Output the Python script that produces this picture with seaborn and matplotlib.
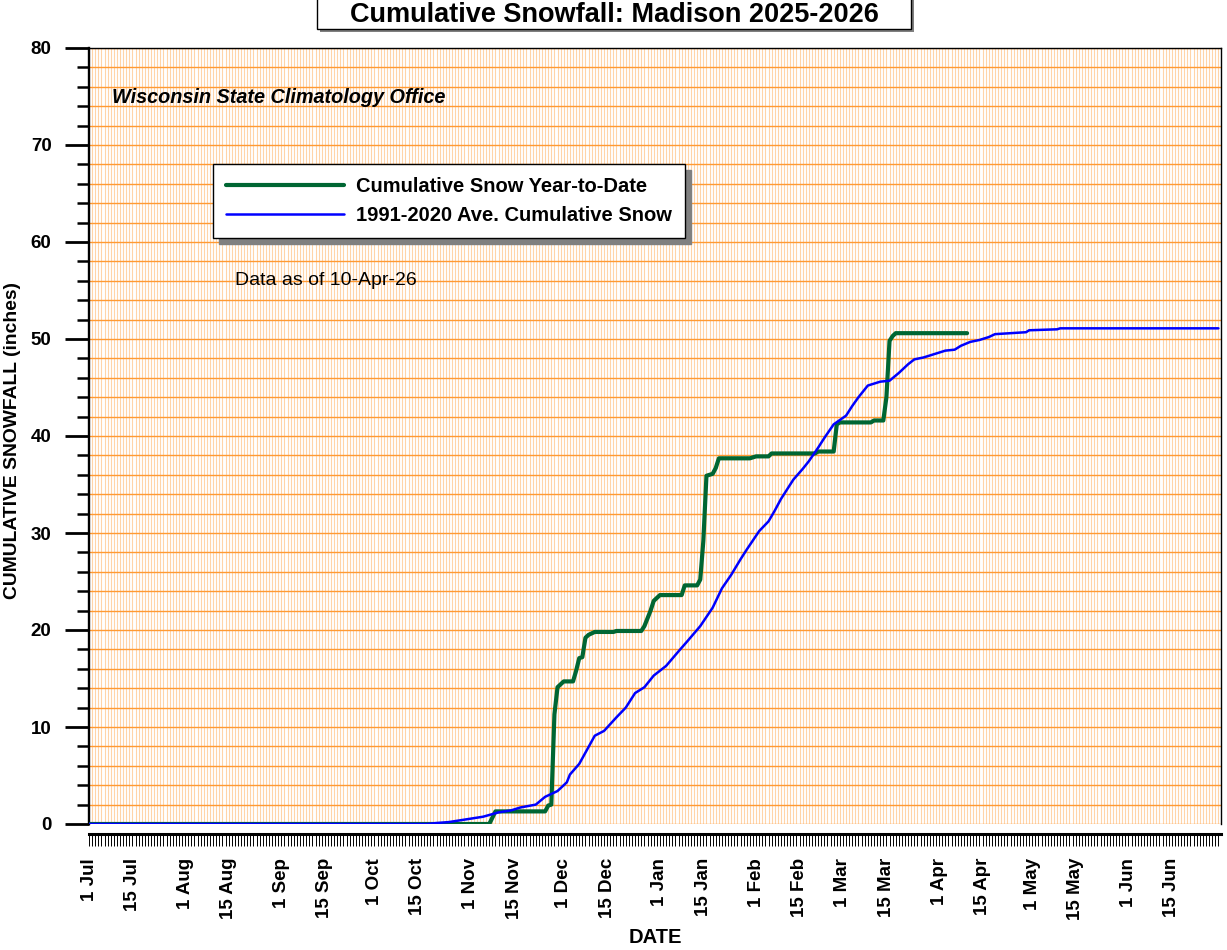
import matplotlib
matplotlib.use('Agg')
import matplotlib.pyplot as plt
import matplotlib.dates as mdates
from matplotlib.patches import Rectangle
from matplotlib.ticker import MultipleLocator, FuncFormatter
import pandas as pd
import seaborn as sns

# Cumulative snow this season
ytd_dates = ['2025-07-01', '2025-11-07', '2025-11-09', '2025-11-25', '2025-11-26', '2025-11-27',
             '2025-11-28', '2025-11-29', '2025-12-01', '2025-12-04', '2025-12-05', '2025-12-06',
             '2025-12-07', '2025-12-08', '2025-12-09', '2025-12-11', '2025-12-17', '2025-12-18',
             '2025-12-26', '2025-12-27', '2025-12-29', '2025-12-30', '2026-01-01', '2026-01-08',
             '2026-01-09', '2026-01-13', '2026-01-14', '2026-01-15', '2026-01-16', '2026-01-18',
             '2026-01-19', '2026-01-20', '2026-01-30', '2026-02-01', '2026-02-05', '2026-02-06',
             '2026-02-20', '2026-02-21', '2026-02-26', '2026-02-27', '2026-02-28', '2026-03-10',
             '2026-03-11', '2026-03-14', '2026-03-15', '2026-03-16', '2026-03-17', '2026-03-18',
             '2026-04-10']
ytd_snow = [0.0, 0.0, 1.3, 1.3, 1.9, 2.0,
            11.3, 14.1, 14.7, 14.7, 15.8, 17.1,
            17.2, 19.2, 19.5, 19.8, 19.8, 19.9,
            19.9, 20.4, 22.0, 23.0, 23.6, 23.6,
            24.6, 24.6, 25.2, 29.2, 35.9, 36.1,
            36.7, 37.7, 37.7, 37.9, 37.9, 38.2,
            38.2, 38.4, 38.4, 41.2, 41.4, 41.4,
            41.6, 41.6, 44.0, 49.8, 50.3, 50.6,
            50.6]

# 1991-2020 average cumulative snow
avg_dates = ['2025-07-01', '2025-10-18', '2025-10-21', '2025-10-25', '2025-10-29', '2025-11-02',
             '2025-11-05', '2025-11-10', '2025-11-14', '2025-11-17', '2025-11-22', '2025-11-25',
             '2025-11-29', '2025-12-02', '2025-12-03', '2025-12-06', '2025-12-11', '2025-12-14',
             '2025-12-18', '2025-12-21', '2025-12-24', '2025-12-27', '2025-12-30', '2026-01-03',
             '2026-01-07', '2026-01-10', '2026-01-14', '2026-01-18', '2026-01-21', '2026-01-24',
             '2026-01-27', '2026-01-29', '2026-02-02', '2026-02-05', '2026-02-07', '2026-02-09',
             '2026-02-11', '2026-02-13', '2026-02-16', '2026-02-18', '2026-02-21', '2026-02-23',
             '2026-02-26', '2026-03-02', '2026-03-04', '2026-03-06', '2026-03-09', '2026-03-13',
             '2026-03-16', '2026-03-19', '2026-03-22', '2026-03-24', '2026-03-27', '2026-03-31',
             '2026-04-03', '2026-04-06', '2026-04-08', '2026-04-11', '2026-04-14', '2026-04-17',
             '2026-04-19', '2026-04-24', '2026-04-29', '2026-04-30', '2026-05-09', '2026-05-10',
             '2026-06-30']
avg_snow = [0.0, 0.0, 0.1, 0.2, 0.4, 0.6,
            0.75, 1.2, 1.4, 1.7, 2.0, 2.8,
            3.4, 4.3, 5.1, 6.2, 9.1, 9.6,
            11.0, 12.0, 13.5, 14.1, 15.3, 16.3,
            17.8, 18.9, 20.4, 22.3, 24.3, 25.7,
            27.3, 28.3, 30.2, 31.2, 32.3, 33.5,
            34.5, 35.5, 36.6, 37.4, 38.8, 39.8,
            41.2, 42.1, 43.1, 44.0, 45.2, 45.6,
            45.7, 46.5, 47.4, 47.9, 48.1, 48.5,
            48.8, 48.9, 49.3, 49.7, 49.9, 50.2,
            50.5, 50.6, 50.7, 50.9, 51.0, 51.1,
            51.1]

ytd = pd.DataFrame({'date': pd.to_datetime(ytd_dates), 'snow': ytd_snow})
avg = pd.DataFrame({'date': pd.to_datetime(avg_dates), 'snow': avg_snow})

sns.set_style('white')
plt.rcParams['font.family'] = ['Liberation Sans', 'DejaVu Sans']
plt.rcParams['font.weight'] = 'bold'
plt.rcParams['text.color'] = 'black'

fig = plt.figure(figsize=(12.27, 9.5), dpi=100)
ax = fig.add_axes([89/1227, 126/950, 1132/1227, 776/950])

sns.lineplot(data=ytd, x='date', y='snow', ax=ax, color='#006633', lw=3.0,
             label='Cumulative Snow Year-to-Date', zorder=3)
sns.lineplot(data=avg, x='date', y='snow', ax=ax, color='#0000FF', lw=1.8,
             label='1991-2020 Ave. Cumulative Snow', zorder=4)

ax.set_xlim(pd.Timestamp('2025-07-01'), pd.Timestamp('2026-06-30 20:00'))
ax.set_ylim(0, 80)

# x ticks: every day, labels on the 1st and 15th
ax.xaxis.set_major_locator(mdates.DayLocator(bymonthday=[1, 15]))
ax.xaxis.set_minor_locator(mdates.DayLocator())
ax.xaxis.set_major_formatter(FuncFormatter(
    lambda v, p: f"{mdates.num2date(v).day} {mdates.num2date(v):%b}"))
ax.yaxis.set_major_locator(MultipleLocator(10))
ax.yaxis.set_minor_locator(MultipleLocator(2))

ax.tick_params(axis='x', which='both', direction='out', length=8.6, width=0.7,
               color='black', bottom=True)
ax.tick_params(axis='x', which='major', labelsize=13.5, pad=8.6, labelrotation=90,
               labelcolor='black')
ax.tick_params(axis='y', which='major', direction='out', length=17.5, width=2,
               color='black', left=True, labelsize=13.5, pad=9.5, labelcolor='black')
ax.tick_params(axis='y', which='minor', direction='out', length=8.6, width=1.8,
               color='black', left=True)

# grid
ax.grid(which='both', axis='x', color='#FFD4A8', lw=0.8)
ax.grid(which='both', axis='y', color='#FF9A33', lw=1.0)
ax.set_axisbelow(True)

# spines
for side in ['top', 'right']:
    ax.spines[side].set_color('black')
    ax.spines[side].set_linewidth(1.0)
ax.spines['left'].set_color('black')
ax.spines['left'].set_linewidth(1.7)
ax.spines['bottom'].set_color('black')
ax.spines['bottom'].set_linewidth(2.2)
ax.spines['bottom'].set_position(('outward', 7.2))

ax.set_xlabel('DATE', fontsize=14.5, fontweight='bold', color='black')
ax.xaxis.set_label_coords(0.5, -0.134)
ax.set_ylabel('CUMULATIVE SNOWFALL (inches)', fontsize=13.9, fontweight='bold', color='black')
ax.yaxis.set_label_coords(-0.060, 0.4936)

leg = ax.legend(loc='upper left', bbox_to_anchor=(213/1227, 1 - 164/950),
                bbox_transform=fig.transFigure, borderaxespad=0, frameon=True,
                fancybox=False, framealpha=1, edgecolor='black', fontsize=14.5,
                handlelength=5.85, handletextpad=0.6, borderpad=0.65, labelspacing=0.47,
                shadow={'ox': 4.5, 'oy': -4.5, 'color': '#808080', 'alpha': 1})
leg.get_frame().set_linewidth(1.0)

ax.text(0.0203, 0.9356, 'Wisconsin State Climatology Office', transform=ax.transAxes,
        fontsize=14.3, fontweight='bold', style='italic', va='center')
ax.text(0.129, 0.701, 'Data as of 10-Apr-26', transform=ax.transAxes,
        fontsize=14, fontweight='normal', va='center')

# title in a box with shadow
fig.add_artist(Rectangle((320/1227, 1 - 32/950), 594/1227, 40/950,
                         transform=fig.transFigure, facecolor='#808080', edgecolor='none'))
fig.add_artist(Rectangle((317/1227, 1 - 29/950), 594/1227, 40/950,
                         transform=fig.transFigure, facecolor='white', edgecolor='black', lw=1))
fig.text(614/1227, 1 - 15/950, 'Cumulative Snowfall: Madison 2025-2026',
         ha='center', va='center', fontsize=19.5, fontweight='bold')

fig.savefig('out.png', dpi=100)
